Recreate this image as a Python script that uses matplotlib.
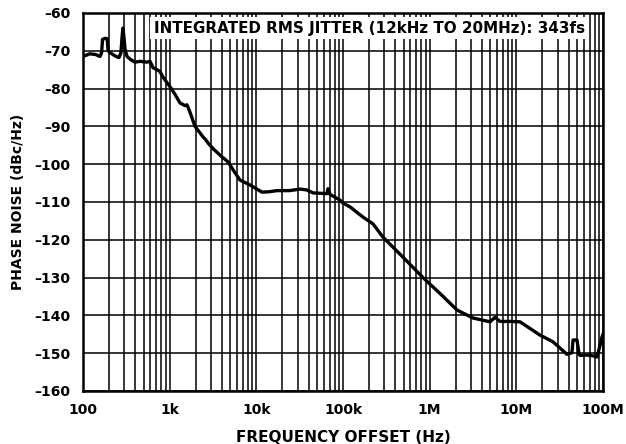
import matplotlib
matplotlib.use("Agg")
import matplotlib.pyplot as plt
from matplotlib.ticker import FixedLocator, LogLocator, NullFormatter

# phase noise trace
freq_hz = [
    100, 120, 140, 157, 164, 168, 180, 190, 195, 205, 240, 260, 274, 283, 289,
    297, 305, 322, 358, 398, 455, 547, 593, 643, 714, 773, 838, 1008, 1150,
    1315, 1500, 1585, 1700, 1960, 2200, 2425, 2600, 2770, 3200, 3808, 4710,
    5500, 6475, 8450, 11620, 14000, 17300, 24000, 31900, 38000, 45100, 55000,
    65300, 67100, 70800, 92300, 100000, 120500, 170000, 222000, 289000,
    492000, 837000, 1.43e6, 2.07e6, 3.16e6, 4.97e6, 5.67e6, 6.47e6, 8.5e6,
    11.0e6, 18.7e6, 26.5e6, 38.4e6, 43.8e6, 45.1e6, 50.1e6, 52.9e6, 54.3e6,
    65e6, 76.7e6, 85.3e6, 92.3e6, 97.3e6, 100e6,
]
noise_dbc = [
    -71.5, -70.8, -71.0, -71.5, -70.5, -67.0, -66.7, -66.8, -70.0, -70.5,
    -71.5, -71.8, -70.5, -66.0, -64.0, -66.5, -69.5, -71.5, -72.4, -73.0,
    -72.8, -73.0, -72.8, -74.5, -75.0, -75.5, -77.0, -79.5, -81.5, -83.8,
    -84.5, -84.3, -86.0, -90.0, -91.5, -92.8, -93.5, -94.4, -96.0, -97.6,
    -99.4, -101.8, -104.2, -105.5, -107.4, -107.3, -107.0, -107.0, -106.6,
    -106.8, -107.6, -107.7, -107.8, -106.5, -108.0, -109.5, -110.3, -111.3,
    -114.0, -115.8, -119.3, -124.6, -130.0, -135.0, -138.6, -140.7, -141.7,
    -140.5, -141.6, -141.6, -141.7, -145.2, -147.0, -150.3, -149.9, -146.5,
    -146.5, -150.3, -150.6, -150.5, -150.7, -151.0, -148.0, -145.7, -145.0,
]

x_ticks = [1e2, 1e3, 1e4, 1e5, 1e6, 1e7, 1e8]
x_tick_labels = ["100", "1k", "10k", "100k", "1M", "10M", "100M"]
y_ticks = list(range(-160, -59, 10))
y_tick_labels = ["\u2013" + str(-v) for v in y_ticks]
note = "INTEGRATED RMS JITTER (12kHz TO 20MHz): 343fs"

plt.rcParams["font.family"] = ["DejaVu Sans"]
plt.rcParams["font.weight"] = "bold"

fig = plt.figure(figsize=(6.26, 4.44), dpi=100)
ax = fig.add_axes([0.1326, 0.1194, 0.8307, 0.8514])

ax.plot(freq_hz, noise_dbc, color="black", lw=2.4, zorder=3,
        solid_joinstyle="round")

ax.set_xscale("log")
ax.set_xlim(100, 1e8)
ax.set_ylim(-160, -60)
ax.xaxis.set_major_locator(FixedLocator(x_ticks))
ax.set_xticklabels(x_tick_labels)
ax.xaxis.set_minor_locator(LogLocator(base=10, subs=range(2, 10), numticks=20))
ax.xaxis.set_minor_formatter(NullFormatter())
ax.set_yticks(y_ticks)
ax.set_yticklabels(y_tick_labels)

ax.grid(True, which="both", axis="x", color="black", lw=1.1)
ax.grid(True, which="major", axis="y", color="black", lw=1.1)
ax.tick_params(which="both", length=0, labelsize=10)
ax.tick_params(axis="x", pad=9)
ax.tick_params(axis="y", pad=9)
for s in ax.spines.values():
    s.set_linewidth(1.8)

ax.set_xlabel("FREQUENCY OFFSET (Hz)", fontsize=11, fontweight="bold", labelpad=9)
ax.set_ylabel("PHASE NOISE (dBc/Hz)", fontsize=10, fontweight="bold", labelpad=7)

ax.text(0.965, 0.960, note, transform=ax.transAxes, ha="right", va="center",
        fontsize=10.9, fontweight="bold", zorder=4,
        bbox=dict(facecolor="white", edgecolor="none", pad=2.5))

fig.savefig("out.png", dpi=100)
